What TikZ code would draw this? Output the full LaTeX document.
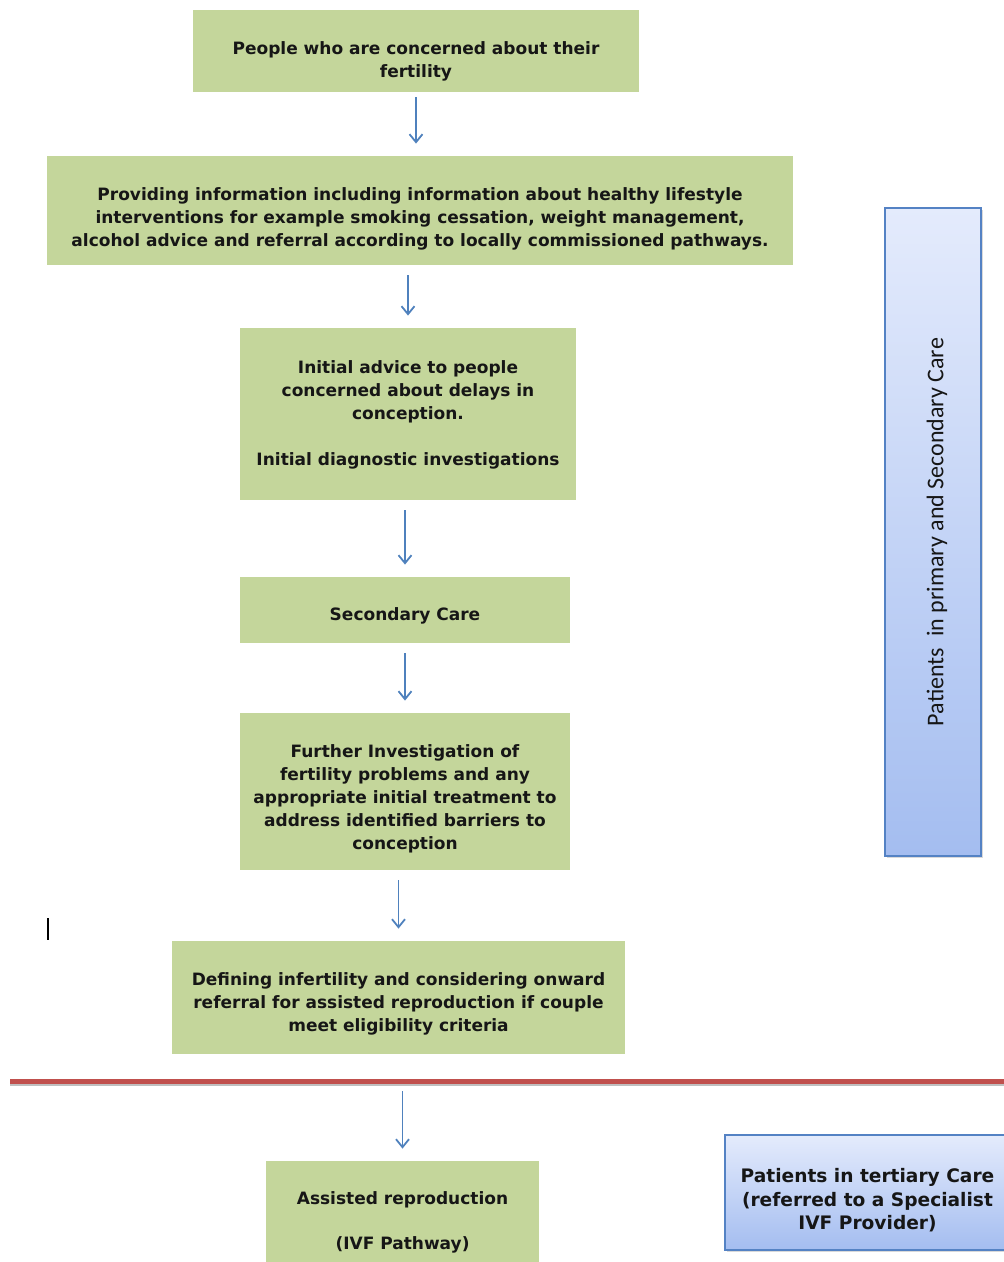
\documentclass[tikz,border=0pt]{standalone}
\usepackage{fontspec}
\setmainfont{DejaVu Sans}
\newfontfamily\sidefont{Carlito}
\usetikzlibrary{arrows.meta,shadows}
\definecolor{boxgreen}{RGB}{196,214,155}
\definecolor{flowblue}{RGB}{79,129,189}
\definecolor{sidetop}{RGB}{228,235,252}
\definecolor{sidebot}{RGB}{164,189,240}
\definecolor{sideline}{RGB}{84,130,196}
\definecolor{cutred}{RGB}{192,80,77}
\definecolor{inktext}{RGB}{22,22,22}
\begin{document}
\begin{tikzpicture}[x=0.5pt,y=-0.5pt,
    greenbox/.style={fill=boxgreen, inner sep=0pt},
    boxtext/.style={text=inktext, align=center, inner sep=0pt,
      font=\bfseries\fontsize{8.5}{11.5}\selectfont},
    bluebox/.style={draw=sideline, line width=0.6pt, top color=sidetop, bottom color=sidebot,
      text=inktext, align=center, inner sep=0pt,
      drop shadow={opacity=0.3, shadow xshift=1pt, shadow yshift=-1pt}},
    flow/.style={->, draw=flowblue, line width=0.9pt, shorten <=5pt, shorten >=6pt},
    >={Straight Barb[length=4pt,width=6.5pt]}]

    \useasboundingbox (0,0) rectangle (1004,1262);

    % green boxes
    \node[greenbox, minimum width=223pt, minimum height=41pt] (concern) at (416,51) {};
    \node[greenbox, minimum width=373pt, minimum height=54.5pt] (info) at (420,210.5) {};
    \node[greenbox, minimum width=168pt, minimum height=86pt] (advice) at (408,414) {};
    \node[greenbox, minimum width=165pt, minimum height=33pt] (secondary) at (405,610) {};
    \node[greenbox, minimum width=165pt, minimum height=78.5pt] (further) at (405,791.5) {};
    \node[greenbox, minimum width=226.5pt, minimum height=56.5pt] (defining) at (398.5,997.5) {};
    \node[greenbox, minimum width=136.5pt, minimum height=51.5pt] (assisted) at (402.5,1212.5) {};

    \node[boxtext] at ([yshift=-5pt]concern.center)
        {People who are concerned about their\\fertility};
    \node[boxtext] at ([yshift=-4pt]info.center)
        {Providing information including information about healthy lifestyle\\interventions for example smoking cessation, weight management,\\alcohol advice and referral according to locally commissioned pathways.};
    \node[boxtext] at ([yshift=-0.5pt]advice.center)
        {Initial advice to people\\concerned about delays in\\conception.\\[11.5pt]Initial diagnostic investigations};
    \node[boxtext] at ([yshift=-3pt]secondary.center) {Secondary Care};
    \node[boxtext] at ([yshift=-3.5pt]further.center)
        {Further Investigation of\\fertility problems and any\\appropriate initial treatment to\\address identified barriers to\\conception};
    \node[boxtext] at ([yshift=-3pt]defining.center)
        {Defining infertility and considering onward\\referral for assisted reproduction if couple\\meet eligibility criteria};
    \node[boxtext] at ([yshift=-5pt]assisted.center)
        {Assisted reproduction\\[11pt](IVF Pathway)};

    % blue side boxes
    \node[bluebox, minimum width=48pt, minimum height=324pt] (primary) at (933,532) {};
    \node[rotate=90, text=inktext, font=\sidefont\fontsize{12}{14}\selectfont] at ([xshift=2pt]primary.center)
        {Patients\ \ in primary and Secondary Care};
    \node[bluebox, minimum width=142.5pt, minimum height=57.5pt] (tertiary) at (867.5,1192.5) {};
    \node[boxtext, font=\bfseries\fontsize{9.3}{11.75}\selectfont] at ([yshift=-4pt]tertiary.center)
        {Patients in tertiary Care\\(referred to a Specialist\\IVF Provider)};

    % dividing line
    \coordinate (redL) at (10,1081);
    \coordinate (redR) at (1004,1081);
    \draw[black!25, line width=2pt] ([yshift=-1.5pt]redL) -- ([yshift=-1.5pt]redR);
    \draw[cutred, line width=2.5pt] (redL) -- (redR);

    \draw[black, line width=0.8pt] (48,918) -- (48,940);

    \draw[flow, shorten <=2.5pt] (concern.south) -- (concern.south |- info.north);
    \draw[flow] (info.south -| advice.north) -- (advice.north);
    \draw[flow] (advice.south -| secondary.north) -- (secondary.north);
    \draw[flow] (secondary.south -| further.north) -- (further.north);
    \draw[flow] (further.south -| defining.north) -- (defining.north);
    \draw[flow] (redL -| assisted.north) -- (assisted.north);
\end{tikzpicture}
\end{document}
